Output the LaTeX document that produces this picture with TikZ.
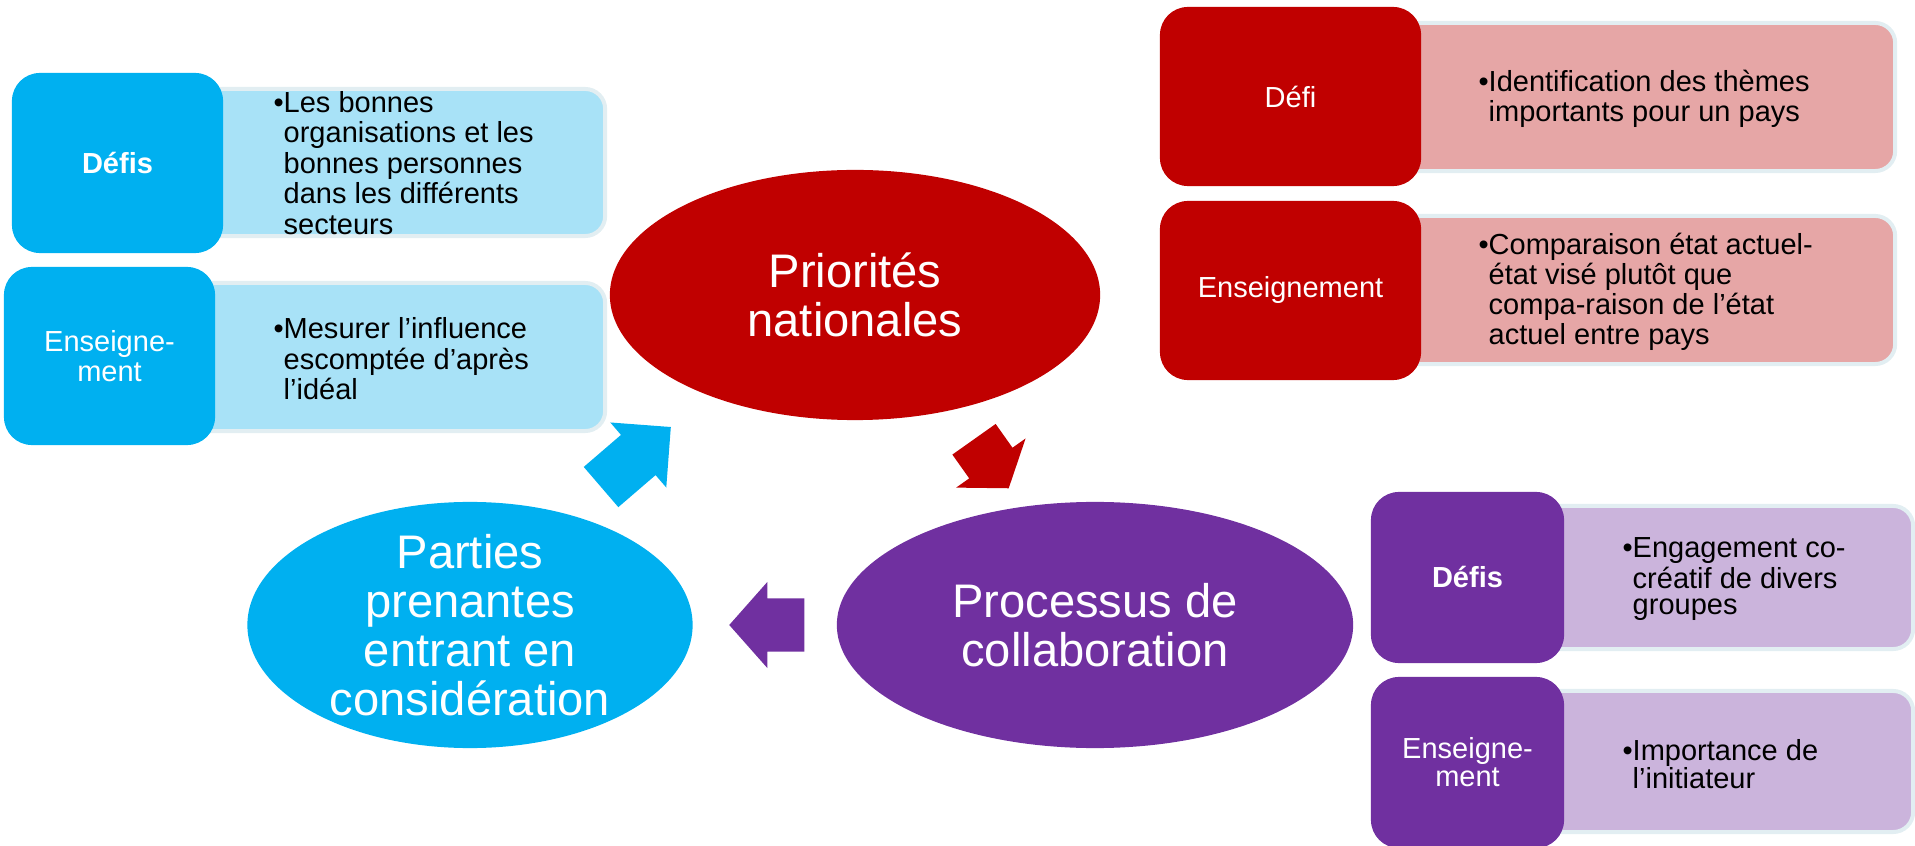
\documentclass[tikz,border=0pt]{standalone}
\usepackage{fontspec}
\setmainfont{Liberation Sans}
\usepackage{tikz}
\usetikzlibrary{shapes.geometric, shapes.arrows, positioning}
\definecolor{myblue}{RGB}{0,176,240}
\definecolor{myred}{RGB}{192,0,0}
\definecolor{mypurple}{RGB}{112,48,160}
\definecolor{lightblue}{RGB}{168,226,247}
\definecolor{lightred}{RGB}{230,166,166}
\definecolor{lightpurple}{RGB}{203,180,220}
\definecolor{halo}{RGB}{226,238,242}
\tikzset{
  darkbox/.style={rectangle, rounded corners=0.28cm, text=white,
    align=center, inner sep=0pt, font=\fontsize{8.25}{8.7}\selectfont},
  lightbox/.style={rectangle, rounded corners=0.2cm, draw=halo,
    line width=0.04cm, inner sep=0pt},
  oval/.style={ellipse, inner sep=0pt},
  ovaltext/.style={text=white, align=center, inner sep=0pt,
    font=\fontsize{13.4}{13.9}\selectfont},
  bodytext/.style={anchor=west, align=left, inner sep=0pt},
  cyclearrow/.style={single arrow, inner xsep=0pt, inner ysep=0.258cm,
    single arrow head indent=0pt, anchor=tail}
}
\newcommand{\bodyfont}[1]{\fontsize{8.25}{#1}\selectfont}

\begin{document}
\begin{tikzpicture}[x=0.01cm, y=-0.01cm]
  \useasboundingbox (0,0) rectangle (1915,846);

  % Ovals
  \node[oval, fill=myred, minimum width=4.90cm, minimum height=2.50cm] (prio) at (855,295) {};
  \node[ovaltext] (priotxt) at (prio) {Priorités\\nationales};
  \node[oval, fill=mypurple, minimum width=5.16cm, minimum height=2.46cm] (proc) at (1095,625) {};
  \node[ovaltext] (proctxt) at (proc) {Processus de\\collaboration};
  \node[oval, fill=myblue, minimum width=4.45cm, minimum height=2.46cm] (part) at (470,625) {};
  \node[ovaltext] (parttxt) at (part) {Parties\\prenantes\\entrant en\\considération};

  % Cycle arrows (placed by their tails)
  \node[cyclearrow, fill=myblue, rotate=40.7, minimum height=0.92cm, minimum width=0.845cm,
    single arrow head extend=0.164cm, single arrow tip angle=90] (arrpart) at (600.5,487.5) {};
  \node[cyclearrow, fill=myred, rotate=-54.7, minimum height=0.60cm, minimum width=0.835cm,
    single arrow head extend=0.16cm, single arrow tip angle=108] (arrprio) at (973.6,438.7) {};
  \node[cyclearrow, fill=mypurple, rotate=180, minimum height=0.75cm, minimum width=0.84cm,
    single arrow head extend=0.165cm, single arrow tip angle=97] (arrproc) at (805,625) {};

  % Blue group
  \node[lightbox, fill=lightblue, minimum width=4.88cm, minimum height=1.47cm] (bdefibg) at (361,162.5) {};
  \node[lightbox, fill=lightblue, minimum width=4.96cm, minimum height=1.48cm] (bensbg) at (357,357) {};
  \node[darkbox, fill=myblue, minimum width=2.11cm, minimum height=1.80cm] (bdefi) at (117.5,163) {\textbf{Défis}};
  \node[darkbox, fill=myblue, minimum width=2.11cm, minimum height=1.78cm] (bens) at (109.5,356) {Enseigne-\\ment};
  \node[bodytext, font=\bodyfont{8.7}] (bdefitxt) at (283,163)
    {\llap{\textbullet}Les bonnes\\organisations et les\\bonnes personnes\\dans les différents\\secteurs};
  \node[bodytext, font=\bodyfont{8.7}] (benstxt) at (283,359)
    {\llap{\textbullet}Mesurer l’influence\\escomptée d’après\\l’idéal};

  % Red group
  \node[lightbox, fill=lightred, minimum width=6.05cm, minimum height=1.48cm] (rdefibg) at (1592.5,97) {};
  \node[lightbox, fill=lightred, minimum width=6.05cm, minimum height=1.48cm] (rensbg) at (1592.5,290) {};
  \node[darkbox, fill=myred, minimum width=2.61cm, minimum height=1.79cm] (rdefi) at (1290.5,96.5) {Défi};
  \node[darkbox, fill=myred, minimum width=2.61cm, minimum height=1.79cm] (rens) at (1290.5,290.5) {Enseignement};
  \node[bodytext, font=\bodyfont{8.55}] (rdefitxt) at (1488,99)
    {\llap{\textbullet}Identification des thèmes\\importants pour un pays};
  \node[bodytext, font=\bodyfont{8.55}] (renstxt) at (1488,292)
    {\llap{\textbullet}Comparaison état actuel-\\état visé plutôt que\\compa-raison de l’état\\actuel entre pays};

  % Purple group
  \node[lightbox, fill=lightpurple, minimum width=4.46cm, minimum height=1.43cm] (pdefibg) at (1690,577.5) {};
  \node[lightbox, fill=lightpurple, minimum width=4.46cm, minimum height=1.41cm] (pensbg) at (1690,761.5) {};
  \node[darkbox, fill=mypurple, minimum width=1.93cm, minimum height=1.71cm] (pdefi) at (1467.5,577.5) {\textbf{Défis}};
  \node[darkbox, fill=mypurple, minimum width=1.93cm, minimum height=1.71cm, font=\bodyfont{7.9}] (pens) at (1467.5,762.5) {Enseigne-\\ment};
  \node[bodytext, font=\bodyfont{7.2}] (pdefitxt) at (1632,579)
    {\llap{\textbullet}Engagement co-\\créatif de divers\\groupes};
  \node[bodytext, font=\bodyfont{7.9}] (penstxt) at (1632,764)
    {\llap{\textbullet}Importance de\\l’initiateur};
\end{tikzpicture}
\end{document}
